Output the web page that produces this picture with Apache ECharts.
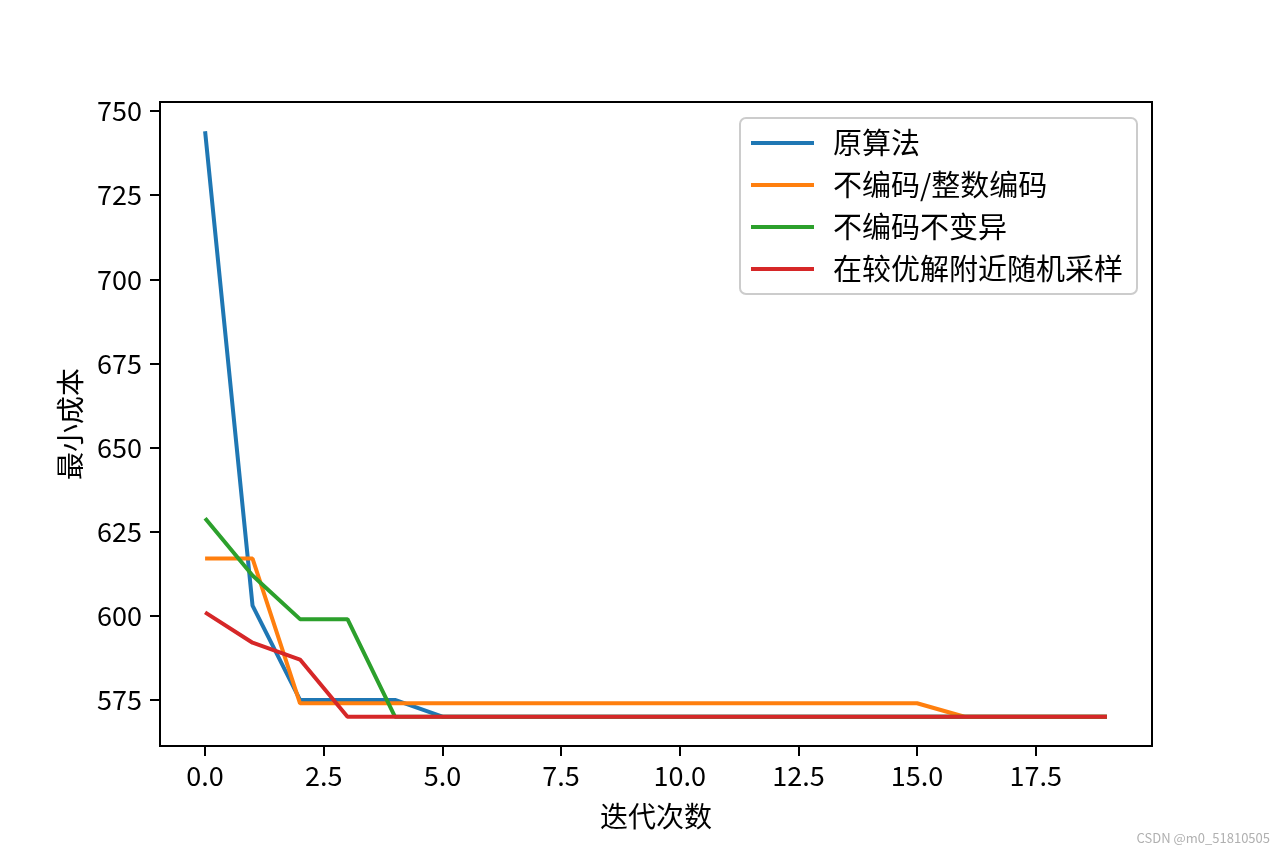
<!DOCTYPE html>
<html>
<head>
<meta charset="utf-8">
<script src="https://cdn.jsdelivr.net/npm/echarts@6/dist/echarts.min.js"></script>
<style>
  html, body { margin: 0; padding: 0; background: #fff; }
  #main { width: 1280px; height: 853px; }
</style>
</head>
<body>
<div id="main"></div>
<script>
// 迭代次数
var iterations = [0, 1, 2, 3, 4, 5, 6, 7, 8, 9, 10, 11, 12, 13, 14, 15, 16, 17, 18, 19];
var seriesNames = ['原算法', '不编码/整数编码', '不编码不变异', '在较优解附近随机采样'];
var costOriginal = [744, 603, 575, 575, 575, 570, 570, 570, 570, 570, 570, 570, 570, 570, 570, 570, 570, 570, 570, 570];
var costIntCode  = [617, 617, 574, 574, 574, 574, 574, 574, 574, 574, 574, 574, 574, 574, 574, 574, 570, 570, 570, 570];
var costNoMutate = [629, 612, 599, 599, 570, 570, 570, 570, 570, 570, 570, 570, 570, 570, 570, 570, 570, 570, 570, 570];
var costNearBest = [601, 592, 587, 570, 570, 570, 570, 570, 570, 570, 570, 570, 570, 570, 570, 570, 570, 570, 570, 570];
var xTicks = [0, 2.5, 5, 7.5, 10, 12.5, 15, 17.5];
var yTicks = [575, 600, 625, 650, 675, 700, 725, 750];

var colors = ['#1f77b4', '#ff7f0e', '#2ca02c', '#d62728'];
var font = '"Noto Sans CJK SC", "DejaVu Sans", sans-serif';

function pairs(ys) {
    return iterations.map(function (x, i) { return [x, ys[i]]; });
}

var allValues = [costOriginal, costIntCode, costNoMutate, costNearBest];
var chart = echarts.init(document.getElementById('main'));

var option = {
    animation: false,
    backgroundColor: '#fff',
    grid: {
        left: 160, right: 128, top: 102, bottom: 107,
        show: true,
        borderColor: '#000',
        borderWidth: 2,
        backgroundColor: 'transparent'
    },
    legend: {
        orient: 'vertical',
        right: 143,
        top: 118,
        data: seriesNames,
        icon: 'rect',
        itemWidth: 63,
        itemHeight: 4,
        itemGap: 12,
        padding: [10, 14, 10, 11],
        backgroundColor: 'rgba(255,255,255,0.8)',
        borderColor: '#cccccc',
        borderWidth: 2,
        borderRadius: 6,
        textStyle: {
            fontFamily: font,
            fontSize: 29,
            lineHeight: 30,
            color: '#000',
            padding: [0, 0, 0, 14]
        }
    },
    xAxis: {
        type: 'value',
        min: -0.95,
        max: 19.95,
        name: '迭代次数',
        nameLocation: 'middle',
        nameGap: 56,
        nameTextStyle: { fontFamily: font, fontSize: 28, color: '#000' },
        splitLine: { show: false },
        axisLine: { show: true, onZero: false, lineStyle: { color: '#000', width: 2 } },
        axisTick: { show: true, length: 10, lineStyle: { color: '#000', width: 2 }, customValues: xTicks },
        axisLabel: {
            fontFamily: font, fontSize: 27, color: '#000', margin: 16,
            customValues: xTicks,
            formatter: function (v) { return v.toFixed(1); }
        }
    },
    yAxis: {
        type: 'value',
        min: 561.3,
        max: 752.7,
        name: '最小成本',
        nameLocation: 'middle',
        nameGap: 76,
        nameTextStyle: { fontFamily: font, fontSize: 28, color: '#000' },
        splitLine: { show: false },
        axisLine: { show: true, onZero: false, lineStyle: { color: '#000', width: 2 } },
        axisTick: { show: true, length: 10, lineStyle: { color: '#000', width: 2 }, customValues: yTicks },
        axisLabel: {
            fontFamily: font, fontSize: 27, color: '#000', margin: 18,
            customValues: yTicks
        }
    },
    graphic: [{
        type: 'text',
        right: 10,
        bottom: 8,
        style: { text: 'CSDN @m0_51810505', fontSize: 13, fill: '#b0b0b0', fontFamily: font }
    }],
    series: seriesNames.map(function (name, i) {
        return {
            name: name,
            type: 'line',
            data: pairs(allValues[i]),
            symbol: 'none',
            color: colors[i],
            lineStyle: { width: 4, color: colors[i] }
        };
    })
};
chart.setOption(option);
</script>
</body>
</html>
